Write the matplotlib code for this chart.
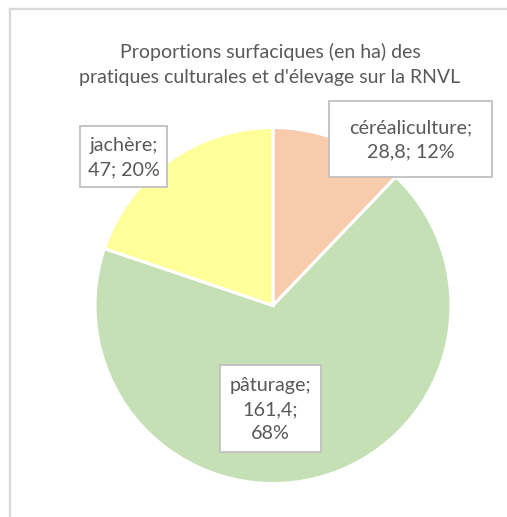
import matplotlib
matplotlib.use("Agg")
import matplotlib.pyplot as plt
from matplotlib.patches import Rectangle
from matplotlib.lines import Line2D

# Surfaces (ha) by farming practice
categories = ["céréaliculture", "pâturage", "jachère"]
surfaces = [28.8, 161.4, 47]
colors = ["#F8CBAD", "#C5E0B4", "#FFFF99"]
# line breaks after these parts of "name; value; pct"
label_breaks = [(1,), (1, 2), (1,)]

title = "Proportions surfaciques (en ha) des\npratiques culturales et d'élevage sur la RNVL"

W, H = 507, 517
DPI = 100
TEXT = "#595959"
FONT = "Lato"

fig = plt.figure(figsize=(W / DPI, H / DPI), dpi=DPI)
fig.patch.set_facecolor("white")


def fx(x):
    return x / W


def fy(y):
    return 1 - y / H


# chart area frame (top and left edges visible)
fig.add_artist(Line2D([fx(10), fx(W + 5)], [fy(9), fy(9)], color="#D9D9D9", lw=1.6))
fig.add_artist(Line2D([fx(10), fx(10)], [fy(9), fy(H + 5)], color="#D9D9D9", lw=1.6))

# pie axes
cx, cy, r = 273, 305.5, 178
ax = fig.add_axes([fx(cx - r), fy(cy + r), 2 * r / W, 2 * r / H])
ax.pie(surfaces, colors=colors, startangle=90, counterclock=False,
       wedgeprops=dict(edgecolor="white", linewidth=2.2))
ax.set_xlim(-1, 1)
ax.set_ylim(-1, 1)
ax.set_aspect("auto")
ax.axis("off")

fig.text(fx(270), fy(64), title, ha="center", va="center", color=TEXT,
         fontsize=14, family=FONT, linespacing=1.57)

total = sum(surfaces)


def fmt(v):
    return f"{v:g}".replace(".", ",")


# label box geometry in pixels: left, top, right, bottom
boxes = [(329, 101, 492, 177), (220, 365, 321, 452), (80, 126, 167, 187)]

for name, val, breaks, (l, t, rr, b) in zip(categories, surfaces, label_breaks, boxes):
    parts = [f"{name};", f"{fmt(val)};", f"{val / total * 100:.0f}%"]
    txt = parts[0]
    for i in range(1, len(parts)):
        txt += ("\n" if i in breaks else " ") + parts[i]
    fig.add_artist(Rectangle((fx(l), fy(b)), (rr - l) / W, (b - t) / H,
                             transform=fig.transFigure, facecolor="white",
                             edgecolor="#BFBFBF", lw=1.3, zorder=5))
    fig.text(fx((l + rr) / 2), fy((t + b) / 2 + 1), txt, ha="center", va="center",
             color=TEXT, fontsize=14.2, family=FONT, linespacing=1.5, zorder=6)

fig.savefig("out.png", dpi=DPI)
